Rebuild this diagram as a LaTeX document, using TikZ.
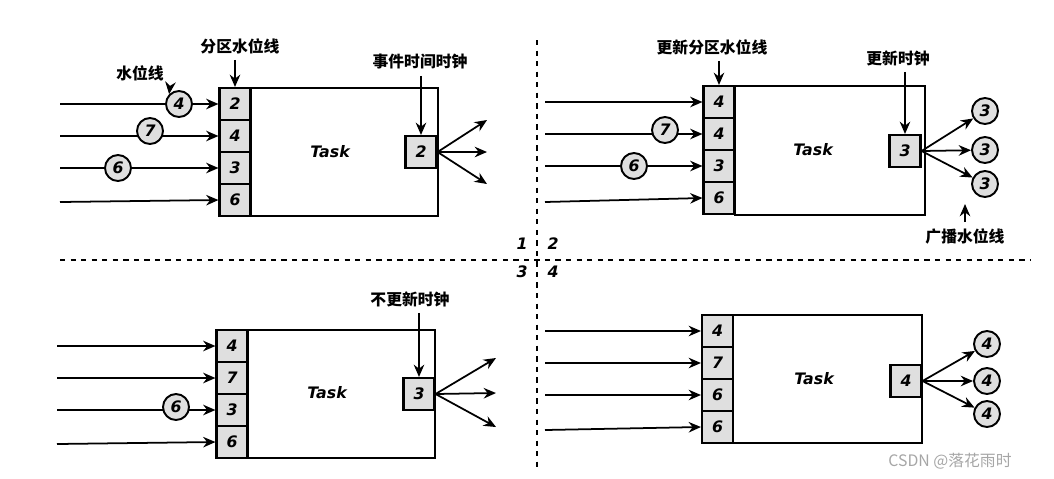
\documentclass[tikz,border=0pt]{standalone}
\usepackage{fontspec}
\setmainfont{DejaVu Sans}
\newfontfamily\cjk{Noto Sans CJK SC}
\usetikzlibrary{arrows.meta}
\begin{document}
\begin{tikzpicture}[x=0.02cm,y=-0.02cm,
 cell/.style={draw,line width=1.2pt,fill=gray!25,minimum width=0.62cm,minimum height=0.64cm,inner sep=0pt,font=\small\bfseries\itshape},
 circ/.style={draw,line width=1.1pt,fill=gray!25,circle,minimum size=0.52cm,inner sep=0pt,font=\small\bfseries\itshape},
 box/.style={draw,line width=1.2pt,inner sep=0pt},
 arr/.style={-{Stealth[length=7pt,width=6pt]},line width=1pt},
 ln/.style={line width=1pt},
 lab/.style={font=\cjk\bfseries\small},
 num/.style={font=\small\bfseries\itshape}]
\useasboundingbox (0,0) rectangle (1054,478);
% dashed
\coordinate (dv1) at (537,40); \coordinate (dv2) at (537,470);
\coordinate (dh1) at (60,260); \coordinate (dh2) at (1030,260);
\draw[dashed,line width=1pt] (dv1) -- (dv2);
\draw[dashed,line width=1pt] (dh1) -- (dh2);
\node[num] (q1) at (522,244) {1};\node[num] (q2) at (553,244) {2};
\node[num] (q3) at (522,272) {3};\node[num] (q4) at (553,272) {4};
% ---------- Q1
\node[box,minimum width=3.76cm,minimum height=2.56cm] (t1) at (344,152) {};
\node[font=\small\bfseries\itshape] (t1l) at (330,152) {Task};
\foreach \v/\y [count=\i] in {2/104,4/136,3/168,6/200}{
  \node[cell] (a\i) at (235,\y) {\v};}
\node[cell] (c1) at (421,152) {2};
\foreach \i/\y in {1/104,2/136,3/168}{\coordinate (ia\i) at (60,\y);}
\coordinate (ia4) at (60,202);
\foreach \i in {1,...,4}{\draw[arr] (ia\i) -- (a\i.west);}
\node[circ] (w1) at (179,104) {4};
\node[circ] (w2) at (150,131) {7};
\node[circ] (w3) at (118,168) {6};
\foreach \i/\y in {1/120,2/152,3/184}{\coordinate (oa\i) at (487,\y); \draw[arr] (c1.east) -- (oa\i);}
\node[lab] (l1) at (140,73) {水位线};
\draw[arr] (l1.south east) -- (w1.north west);
\node[lab] (l2) at (240,46) {分区水位线};
\draw[arr] (l2.south -| a1) -- (a1.north);
\node[lab] (l3) at (420,62) {事件时间时钟};
\draw[arr] (l3.south -| c1) -- (c1.north);
% ---------- Q2
\node[box,minimum width=3.8cm,minimum height=2.58cm] (t2) at (830,150.5) {};
\node[font=\small\bfseries\itshape] (t2l) at (813,150) {Task};
\foreach \v/\y [count=\i] in {4/102,4/134,3/166,6/198}{
  \node[cell] (b\i) at (719,\y) {\v};}
\node[cell] (c2) at (905,151) {3};
\foreach \i/\y in {1/102,2/134,3/166}{\coordinate (ib\i) at (545,\y);}
\coordinate (ib4) at (545,202);
\foreach \i in {1,...,4}{\draw[arr] (ib\i) -- (b\i.west);}
\node[circ] (x2) at (665,130) {7};
\node[circ] (x3) at (634,166) {6};
\foreach \i/\y in {1/111,2/150,3/184}{\node[circ] (ob\i) at (985,\y) {3}; \draw[arr] (c2.east) -- (ob\i);}
\node[lab] (l4) at (712,47) {更新分区水位线};
\draw[arr] (l4.south -| b1) -- (b1.north);
\node[lab] (l5) at (898,58) {更新时钟};
\draw[arr] (l5.south -| c2) -- (c2.north);
\node[lab] (l6) at (965,236) {广播水位线};
\draw[arr] (l6.north) -- (965,204);
% ---------- Q3
\node[box,minimum width=3.74cm,minimum height=2.56cm] (t3) at (341.5,394) {};
\node[font=\small\bfseries\itshape] (t3l) at (327,393) {Task};
\foreach \v/\y [count=\i] in {4/346,7/378,3/410,6/442}{
  \node[cell] (d\i) at (232,\y) {\v};}
\node[cell] (c3) at (419,394) {3};
\foreach \i/\y in {1/346,2/378,3/410}{\coordinate (id\i) at (57,\y);}
\coordinate (id4) at (57,444);
\foreach \i in {1,...,4}{\draw[arr] (id\i) -- (d\i.west);}
\node[circ] (y3) at (176,407) {6};
\foreach \i/\y in {1/358,2/393,3/427}{\coordinate (od\i) at (496,\y); \draw[arr] (c3.east) -- (od\i);}
\node[lab] (l7) at (410,299) {不更新时钟};
\draw[arr] (l7.south -| c3) -- (c3.north);
% ---------- Q4
\node[box,minimum width=3.78cm,minimum height=2.56cm] (t4) at (827.5,379) {};
\node[font=\small\bfseries\itshape] (t4l) at (814,379) {Task};
\foreach \v/\y [count=\i] in {4/331,7/363,6/395,6/427}{
  \node[cell] (e\i) at (717.5,\y) {\v};}
\node[cell] (c4) at (906,381) {4};
\foreach \i/\y in {1/331,2/363,3/395}{\coordinate (ie\i) at (545,\y);}
\coordinate (ie4) at (545,430);
\foreach \i in {1,...,4}{\draw[arr] (ie\i) -- (e\i.west);}
\foreach \i/\y in {1/344,2/381,3/414}{\node[circ] (oe\i) at (987,\y) {4}; \draw[arr] (c4.east) -- (oe\i);}
% watermark
\node[font=\cjk\small,text=gray!70] (wm) at (950,461) {CSDN @落花雨时};
\end{tikzpicture}
\end{document}
